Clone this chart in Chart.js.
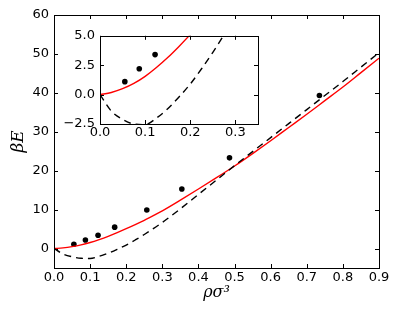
<!DOCTYPE html>
<html>
<head>
<meta charset="utf-8">
<script src="https://cdn.jsdelivr.net/npm/chart.js@4"></script>
<style>
  html, body { margin: 0; padding: 0; background: #fff; }
  #wrap { position: relative; width: 399px; height: 311px; }
  #mainChart { position: absolute; left: 0; top: 0; }
  #insetChart { position: absolute; left: 58px; top: 23px; }
</style>
</head>
<body>
<div id="wrap">
  <canvas id="mainChart" width="399" height="311"></canvas>
  <canvas id="insetChart" width="206" height="121"></canvas>
</div>
<script>
// density grid for the two curves
var rhoGrid = [0, 0.025, 0.05, 0.075, 0.1, 0.125, 0.15, 0.175, 0.2, 0.225, 0.25, 0.275, 0.3,
               0.35, 0.4, 0.45, 0.5, 0.55, 0.6, 0.65, 0.7, 0.75, 0.8, 0.85, 0.9];
// red solid curve
var energyRed = [0, 0.18, 0.5, 0.95, 1.55, 2.3, 3.15, 4.1, 5.1, 6.15, 7.25, 8.45, 9.7,
                 12.45, 15.3, 18.2, 21.2, 24.4, 27.7, 31.1, 34.5, 38.0, 41.5, 45.2, 48.9];
// black dashed curve
var energyDashed = [0, -1.4, -2.1, -2.5, -2.55, -2.0, -1.2, -0.2, 0.9, 2.2, 3.6, 5.1, 6.7,
                    10.2, 13.9, 17.6, 21.3, 24.9, 28.5, 32.1, 35.7, 39.3, 42.9, 46.6, 50.3];
// simulation points
var simRho = [0.055, 0.087, 0.122, 0.168, 0.257, 0.354, 0.486, 0.735];
var simEnergy = [1.1, 2.2, 3.4, 5.5, 9.9, 15.3, 23.3, 39.3];

var xTicksMain = [0, 0.1, 0.2, 0.3, 0.4, 0.5, 0.6, 0.7, 0.8, 0.9];
var yTicksMain = [0, 10, 20, 30, 40, 50, 60];
var xTicksInset = [0, 0.1, 0.2, 0.3];
var yTicksInset = [-2.5, 0, 2.5, 5];

function pts(xs, ys) {
    return xs.map(function (x, i) { return {x: x, y: ys[i]}; });
}

function fmt(v) {
    var s = Number(v).toFixed(1);
    return v < 0 ? '\u2212' + s.slice(1) : s;
}

var tickFont = {family: 'DejaVu Sans', size: 13};

// box frame with inward ticks on all four sides
var frame = {
    id: 'frame',
    afterDraw: function (chart) {
        var ctx = chart.ctx, a = chart.chartArea;
        var sx = chart.scales.x, sy = chart.scales.y;
        var len = 4;
        ctx.save();
        ctx.strokeStyle = '#000';
        ctx.lineWidth = 1;
        ctx.beginPath();
        sx.ticks.forEach(function (t) {
            var p = Math.round(sx.getPixelForValue(t.value)) + 0.5;
            ctx.moveTo(p, a.bottom); ctx.lineTo(p, a.bottom - len);
            ctx.moveTo(p, a.top); ctx.lineTo(p, a.top + len);
        });
        sy.ticks.forEach(function (t) {
            var p = Math.round(sy.getPixelForValue(t.value)) + 0.5;
            ctx.moveTo(a.left, p); ctx.lineTo(a.left + len, p);
            ctx.moveTo(a.right, p); ctx.lineTo(a.right - len, p);
        });
        ctx.stroke();
        ctx.strokeRect(Math.round(a.left) + 0.5, Math.round(a.top) + 0.5,
                       Math.round(a.right - a.left), Math.round(a.bottom - a.top));
        ctx.restore();
    }
};

function datasets() {
    return [{
        data: pts(rhoGrid, energyDashed),
        showLine: true,
        borderColor: '#000',
        borderWidth: 1.4,
        borderDash: [7, 5],
        pointRadius: 0,
        cubicInterpolationMode: 'monotone'
    }, {
        data: pts(rhoGrid, energyRed),
        showLine: true,
        borderColor: '#ff0000',
        borderWidth: 1.4,
        pointRadius: 0,
        cubicInterpolationMode: 'monotone'
    }, {
        data: pts(simRho, simEnergy),
        showLine: false,
        pointRadius: 2.8,
        pointBackgroundColor: '#000',
        pointBorderWidth: 0
    }];
}

function makeOptions(cfg) {
    return {
        responsive: false,
        animation: false,
        events: [],
        layout: {padding: cfg.padding},
        plugins: {legend: {display: false}, tooltip: {enabled: false}},
        scales: {
            x: {
                type: 'linear',
                min: cfg.xMin, max: cfg.xMax,
                afterBuildTicks: function (s) { s.ticks = cfg.xTicks.map(function (v) { return {value: v}; }); },
                afterFit: function (s) { s.height = cfg.xHeight; },
                grid: {display: false, drawTicks: false},
                border: {display: false},
                ticks: {font: tickFont, color: '#000', padding: cfg.xPad, autoSkip: false, maxRotation: 0,
                        callback: function (v) { return fmt(v); }},
                title: cfg.xTitle
            },
            y: {
                type: 'linear',
                min: cfg.yMin, max: cfg.yMax,
                afterBuildTicks: function (s) { s.ticks = cfg.yTicks.map(function (v) { return {value: v}; }); },
                afterFit: function (s) { s.width = cfg.yWidth; },
                grid: {display: false, drawTicks: false},
                border: {display: false},
                ticks: {font: tickFont, color: '#000', padding: 5, autoSkip: false,
                        callback: cfg.yFmt},
                title: cfg.yTitle
            }
        }
    };
}

new Chart(document.getElementById('mainChart'), {
    type: 'scatter',
    data: {datasets: datasets()},
    options: makeOptions({
        padding: {top: 15, right: 20, left: 0, bottom: 0},
        xMin: 0, xMax: 0.9, yMin: -5, yMax: 60,
        xTicks: xTicksMain, yTicks: yTicksMain,
        xHeight: 43, yWidth: 54, xPad: 2,
        yFmt: function (v) { return String(v); },
        xTitle: {display: true, text: '\u03c1\u03c3\u00b3', color: '#000',
                 font: {family: 'DejaVu Serif', style: 'italic', size: 16},
                 padding: {top: 0, bottom: 9}},
        yTitle: {display: true, text: '\u03b2E', color: '#000',
                 font: {family: 'DejaVu Serif', style: 'italic', size: 17},
                 padding: {top: 8, bottom: 0}}
    }),
    plugins: [frame]
});

new Chart(document.getElementById('insetChart'), {
    type: 'scatter',
    data: {datasets: datasets()},
    options: makeOptions({
        padding: {top: 8, right: 6, left: 0, bottom: 0},
        xMin: 0, xMax: 0.35, yMin: -2.5, yMax: 5,
        xTicks: xTicksInset, yTicks: yTicksInset,
        xHeight: 20, yWidth: 42, xPad: 1,
        yFmt: function (v) { return fmt(v); },
        xTitle: {display: false},
        yTitle: {display: false}
    }),
    plugins: [frame]
});
</script>
</body>
</html>
